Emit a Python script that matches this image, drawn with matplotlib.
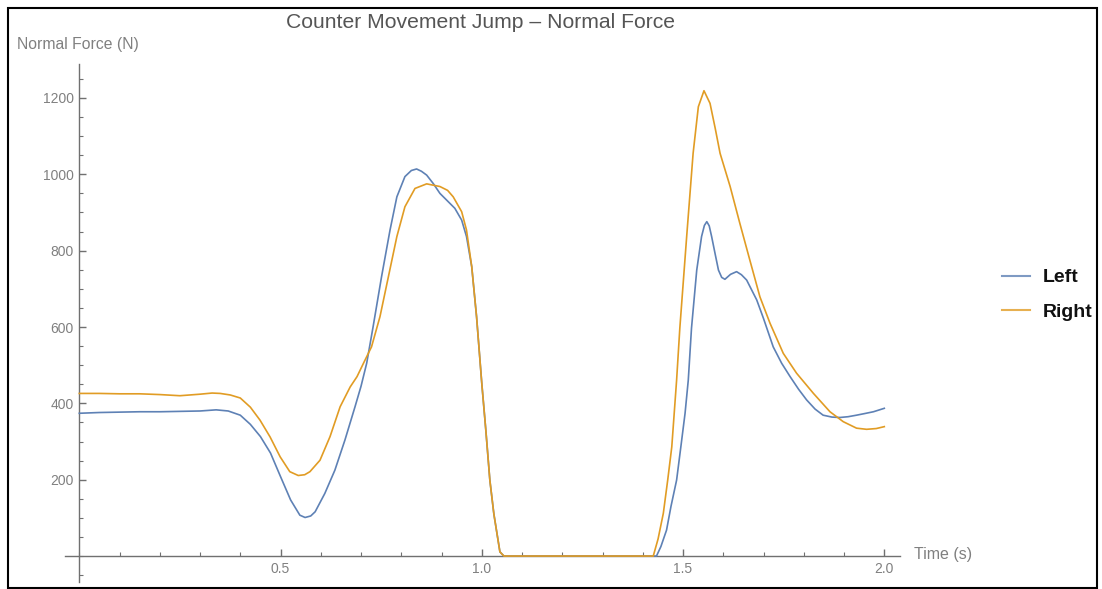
import matplotlib
matplotlib.use("Agg")
import matplotlib.pyplot as plt
from matplotlib.patches import Rectangle
from matplotlib.ticker import MultipleLocator, FixedLocator

plt.rcParams['font.family'] = ['Liberation Sans', 'DejaVu Sans']

# ---- data ----
left_t = [0.00, 0.05, 0.10, 0.15, 0.20, 0.25, 0.30, 0.34, 0.37, 0.40, 0.425, 0.45,
          0.475, 0.50, 0.525, 0.548, 0.561, 0.575, 0.586, 0.61, 0.635, 0.66, 0.685,
          0.70, 0.714, 0.73, 0.751, 0.772, 0.789, 0.809, 0.825, 0.838, 0.85, 0.863,
          0.88, 0.896, 0.915, 0.933, 0.95, 0.962, 0.975, 0.987, 1.0, 1.01, 1.02,
          1.03, 1.045, 1.055, 1.10, 1.20, 1.30, 1.40, 1.434, 1.445, 1.459, 1.47,
          1.484, 1.495, 1.505, 1.513, 1.521, 1.534, 1.546, 1.553, 1.559, 1.565,
          1.571, 1.58, 1.588, 1.596, 1.604, 1.618, 1.633, 1.645, 1.658, 1.683,
          1.70, 1.724, 1.745, 1.766, 1.787, 1.807, 1.828, 1.848, 1.87, 1.89, 1.91,
          1.931, 1.95, 1.973, 2.0]
left_f = [374, 376, 377, 378, 378, 379, 380, 383, 380, 369, 345, 313,
          270, 208, 147, 107, 101, 105, 116, 164, 225, 304, 391,
          445, 505, 601, 732, 854, 941, 994, 1010, 1014, 1008, 998,
          975, 950, 930, 911, 880, 837, 758, 627, 452, 330, 199,
          110, 11, 0, 0, 0, 0, 0, 0, 25, 68, 130,
          199, 290, 374, 461, 597, 749, 837, 866, 876, 865,
          837, 790, 749, 730, 725, 738, 745, 737, 723, 671,
          622, 548, 505, 470, 437, 409, 385, 369, 364, 363, 365,
          369, 373, 378, 387]

right_t = [0.00, 0.05, 0.10, 0.15, 0.20, 0.25, 0.30, 0.33, 0.35, 0.375, 0.40, 0.425,
           0.449, 0.474, 0.499, 0.523, 0.544, 0.56, 0.573, 0.598, 0.623, 0.648,
           0.673, 0.69, 0.706, 0.726, 0.747, 0.768, 0.789, 0.809, 0.834, 0.863,
           0.896, 0.915, 0.929, 0.95, 0.962, 0.975, 0.987, 1.0, 1.01, 1.02, 1.03,
           1.045, 1.055, 1.10, 1.20, 1.30, 1.40, 1.426, 1.438, 1.451, 1.462, 1.472,
           1.484, 1.492, 1.509, 1.525, 1.538, 1.552, 1.567, 1.58, 1.592, 1.617,
           1.641, 1.666, 1.691, 1.716, 1.749, 1.782, 1.824, 1.865, 1.898, 1.931,
           1.956, 1.98, 2.0]
right_f = [426, 426, 425, 425, 423, 420, 424, 427, 426, 422, 414, 390,
           356, 312, 260, 221, 211, 213, 221, 251, 313, 391,
           443, 470, 505, 548, 627, 732, 837, 915, 963, 975,
           968, 958, 941, 902, 854, 758, 627, 452, 330, 199, 110,
           11, 0, 0, 0, 0, 0, 0, 45, 112, 200, 286,
           461, 597, 837, 1055, 1177, 1219, 1186, 1120, 1055, 968,
           872, 775, 679, 610, 531, 479, 426, 378, 352, 335,
           332, 334, 339]

series_names = ["Left", "Right"]
title = "Counter Movement Jump \u2013 Normal Force"
y_label = "Normal Force (N)"
x_label = "Time (s)"
x_major = [0.5, 1.0, 1.5, 2.0]
y_major = [200, 400, 600, 800, 1000, 1200]

# ---- style ----
C_LEFT = "#5E81B5"
C_RIGHT = "#E19C24"
AX_COL = "#707070"
TXT_COL = "#808080"

W, H = 1102, 589
fig = plt.figure(figsize=(W / 100, H / 100), dpi=100)
ax = fig.add_axes([65 / W, (H - 582) / H, 835 / W, 518 / H])
ax.set_xlim(-0.0355, 2.039)
ax.set_ylim(-68, 1289)

ax.plot(left_t, left_f, color=C_LEFT, lw=1.2, label=series_names[0], zorder=3)
ax.plot(right_t, right_f, color=C_RIGHT, lw=1.2, label=series_names[1], zorder=3)

for s in ["top", "right"]:
    ax.spines[s].set_visible(False)
for s in ["left", "bottom"]:
    ax.spines[s].set_position(("data", 0))
    ax.spines[s].set_color(AX_COL)
    ax.spines[s].set_linewidth(1.0)
ax.patch.set_alpha(0)

ax.xaxis.set_major_locator(FixedLocator(x_major))
ax.xaxis.set_minor_locator(MultipleLocator(0.1))
ax.yaxis.set_major_locator(FixedLocator(y_major))
ax.yaxis.set_minor_locator(MultipleLocator(50))
ax.set_xticklabels(["%.1f" % v for v in x_major])
ax.set_yticklabels([str(v) for v in y_major])
ax.tick_params(axis="both", which="major", direction="in", length=5, width=1.0,
               color=AX_COL, labelcolor=TXT_COL, labelsize=10)
ax.tick_params(axis="both", which="minor", direction="in", length=3, width=0.8,
               color=AX_COL)
ax.tick_params(axis="x", pad=4)
ax.tick_params(axis="y", pad=4)

fig.text(481 / W, 1 - 22 / H, title, ha="center", va="center", fontsize=15.2,
         color="#555555")
fig.text(17 / W, 1 - 45 / H, y_label, ha="left", va="center", fontsize=11.3,
         color=TXT_COL)
fig.text(914 / W, 1 - 555 / H, x_label, ha="left", va="center", fontsize=11.5,
         color=TXT_COL)

leg = fig.legend(loc="center left", bbox_to_anchor=(1002 / W, 1 - 295 / H),
                 frameon=False, borderpad=0, borderaxespad=0,
                 prop={"size": 14, "weight": "bold"},
                 handlelength=1.45, handletextpad=0.62, labelspacing=0.88)
for t in leg.get_texts():
    t.set_color("#111111")
for h in leg.legend_handles:
    h.set_linewidth(1.5)
    h.set_alpha(0.8)

fig.patches.append(Rectangle((8 / W, 1 / H), 1089 / W, 580 / H, transform=fig.transFigure,
                             fill=False, edgecolor="black", linewidth=1.5))

fig.savefig("out.png", dpi=100)
